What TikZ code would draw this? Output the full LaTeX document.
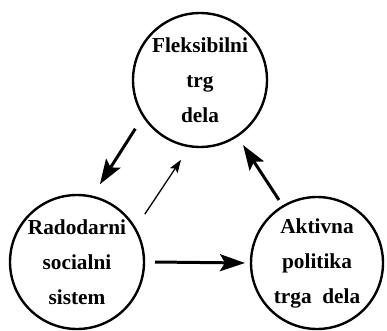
\documentclass[tikz,border=0pt]{standalone}
\usepackage{fontspec}
\setmainfont{Liberation Serif}
\usetikzlibrary{arrows.meta,calc}
\begin{document}
\begin{tikzpicture}[x=1pt,y=1pt,
  circ/.style={draw,circle,line width=2.4pt,minimum size=#1,inner sep=0pt,align=center,
    font=\fontsize{21.3}{35}\selectfont\bfseries},
  thick arrow/.style={line width=3pt,-{Stealth[length=25pt,width=17pt,inset=5pt]}},
  thin arrow/.style={line width=1.3pt,-{Stealth[length=13pt,width=9pt,inset=2.5pt]}}]
\useasboundingbox (0,0) rectangle (387,330);
\node[circ=134pt] (top) at (200,250) {Fleksibilni\\trg\\dela};
\node[circ=134pt] (left) at (77,68) {Radodarni\\socialni\\sistem};
\node[circ=132pt] (right) at (317,67) {Aktivna\\politika\\trga\ \ dela};
\draw[thick arrow] ($(top.center)+(217:81)$) -- ($(left.center)+(73.6:81)$);
\draw[thin arrow] ($(left.center)+(35.2:83)$) -- ($(top.center)+(256.6:82)$);
\draw[thick arrow] ($(right.center)+(121.1:73.6)$) -- ($(top.center)+(303.5:78)$);
\draw[thick arrow] ($(left.center)+(0:78)$) -- ($(right.center)+(180:72)$);
\end{tikzpicture}
\end{document}
